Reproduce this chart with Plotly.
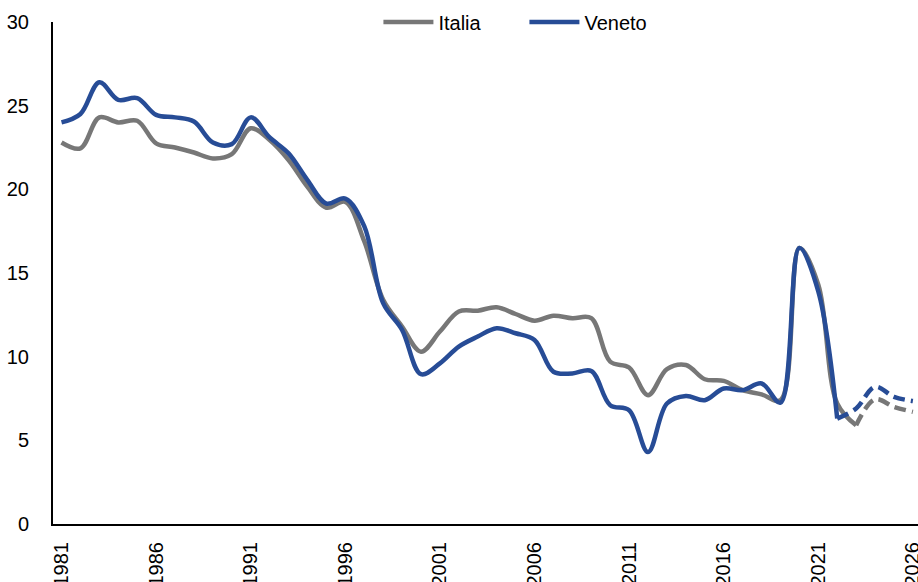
import plotly.graph_objects as go

years = list(range(1981, 2027))
italia = [22.8, 22.45, 24.3, 24.0, 24.1, 22.75, 22.5, 22.2, 21.85, 22.1,
          23.65, 22.95, 21.75, 20.15, 18.9, 19.25, 16.9, 13.4, 11.8, 10.3,
          11.5, 12.7, 12.75, 12.95, 12.55, 12.15, 12.45, 12.3, 12.3, 9.7,
          9.35, 7.7, 9.25, 9.5, 8.65, 8.55, 8.0, 7.75, 7.4, 16.5,
          14.3, 7.2, 5.9, 7.45, 7.0, 6.7]
veneto = [24.0, 24.5, 26.4, 25.35, 25.45, 24.45, 24.3, 24.05, 22.8, 22.7,
          24.3, 23.1, 22.15, 20.55, 19.15, 19.45, 17.8, 13.2, 11.6, 8.95,
          9.6, 10.6, 11.2, 11.7, 11.4, 11.0, 9.1, 9.0, 9.15, 7.1,
          6.8, 4.3, 7.2, 7.65, 7.4, 8.1, 8.0, 8.4, 7.25, 16.5,
          13.9, 6.3, 6.9, 8.2, 7.6, 7.35]
italia_last_actual = 2023
veneto_last_actual = 2022
tick_years = [1981, 1986, 1991, 1996, 2001, 2006, 2011, 2016, 2021, 2026]

GRAY = "#777777"
BLUE = "#274C96"
FONT = "Liberation Sans, Arial, sans-serif"

fig = go.Figure()

def add_series(name, vals, last_actual, color):
    k = years.index(last_actual)
    fig.add_trace(go.Scatter(
        x=years[:k + 1], y=vals[:k + 1], name=name, mode="lines",
        line=dict(color=color, width=4.5, shape="spline", smoothing=1.0),
        showlegend=True, legendgroup=name))
    fig.add_trace(go.Scatter(
        x=years[k:], y=vals[k:], name=name, mode="lines",
        line=dict(color=color, width=4.5, shape="spline", smoothing=1.0,
                  dash="12px,6px"),
        showlegend=False, legendgroup=name))

add_series("Italia", italia, italia_last_actual, GRAY)
add_series("Veneto", veneto, veneto_last_actual, BLUE)

fig.update_layout(
    width=918, height=582,
    margin=dict(l=53, r=0, t=22, b=58),
    paper_bgcolor="white", plot_bgcolor="white",
    font=dict(family=FONT, size=20, color="black"),
    showlegend=True,
    legend=dict(orientation="h", x=0.545, xanchor="center", y=1.0,
                yanchor="middle", bgcolor="rgba(0,0,0,0)",
                font=dict(size=20), entrywidth=81, entrywidthmode="pixels",
                itemwidth=50),
    xaxis=dict(range=[1980.55, 2026.27], tickmode="array", tickvals=tick_years,
               ticktext=[str(t) for t in tick_years], tickangle=-90,
               showgrid=False, zeroline=False, showline=True, linecolor="black",
               linewidth=2, ticks="", ticklabelstandoff=8, automargin=False,
               ticklabeloverflow="allow"),
    yaxis=dict(range=[0, 30], tickmode="array", tickvals=[0, 5, 10, 15, 20, 25, 30],
               showgrid=False, zeroline=False, showline=True, linecolor="black",
               linewidth=2, ticks="", ticklabelstandoff=18, automargin=False),
)

fig.write_html("out.html", config={"displayModeBar": False},
               post_script="document.body.style.margin='0';document.body.style.overflow='hidden';")
